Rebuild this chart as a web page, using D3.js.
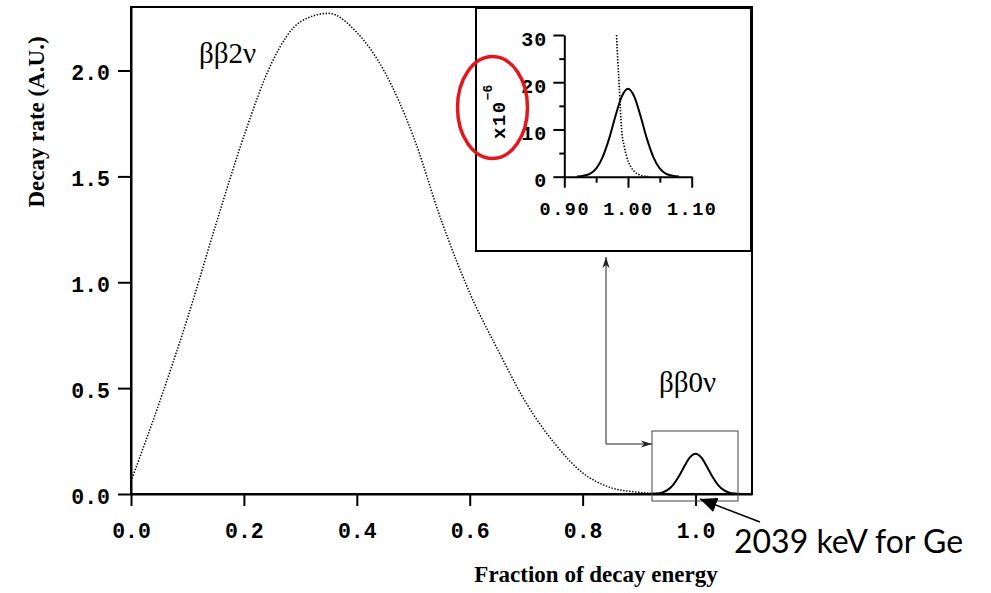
<!DOCTYPE html>
<html>
<head>
<meta charset="utf-8">
<script src="https://cdn.jsdelivr.net/npm/d3@7"></script>
<style>
  html, body { margin: 0; padding: 0; background: #fff; }
  svg { display: block; }
</style>
</head>
<body>
<svg id="chart" width="991" height="593"></svg>
<script>
// ---------------- data ----------------
// main panel: two-neutrino spectrum (fraction of decay energy vs decay rate)
const energyFrac = [0.00, 0.05, 0.10, 0.15, 0.20, 0.25, 0.30, 0.35, 0.40, 0.45, 0.50,
                    0.55, 0.60, 0.65, 0.70, 0.75, 0.80, 0.85, 0.90, 0.95, 1.00];
const rate2nu    = [0.06, 0.43, 0.83, 1.27, 1.69, 2.04, 2.23, 2.27, 2.18, 1.99, 1.69,
                    1.29, 0.95, 0.68, 0.43, 0.24, 0.10, 0.03, 0.008, 0.001, 0.0];
// main panel: neutrinoless peak (schematic)
const peakFrac   = [0.92, 0.93, 0.94, 0.95, 0.96, 0.97, 0.98, 0.99, 1.00,
                    1.01, 1.02, 1.03, 1.04, 1.05, 1.06, 1.07, 1.08];
const rate0nu    = [0.0005, 0.002, 0.006, 0.018, 0.042, 0.081, 0.130, 0.173, 0.190,
                    0.173, 0.130, 0.081, 0.042, 0.018, 0.006, 0.002, 0.0005];
// inset (units of 1e-6)
const insetPeakFrac = [0.92, 0.93, 0.94, 0.95, 0.96, 0.97, 0.98, 0.99, 1.00,
                       1.01, 1.02, 1.03, 1.04, 1.05, 1.06, 1.07, 1.08];
const insetPeakRate = [0.05, 0.2, 0.6, 1.7, 4.1, 7.9, 12.7, 16.9, 18.6,
                       16.9, 12.7, 7.9, 4.1, 1.7, 0.6, 0.2, 0.05];
const insetTailFrac = [0.982, 0.984, 0.986, 0.988, 0.990, 0.994, 0.998, 1.004, 1.010, 1.018, 1.026, 1.035];
const insetTailRate = [30.0, 24.5, 19.8, 14.5, 10.0, 6.5, 4.2, 2.2, 1.1, 0.4, 0.1, 0.0];

// tick labels
const mainXTicks = [0.0, 0.2, 0.4, 0.6, 0.8, 1.0];
const mainYTicks = [0.0, 0.5, 1.0, 1.5, 2.0];
const insetXTicks = [0.90, 1.00, 1.10];
const insetXMinor = [0.95, 1.05];
const insetYTicks = [0, 10, 20, 30];
const insetYMinor = [5, 15, 25];

// text
const xTitle = "Fraction of decay energy";
const yTitle = "Decay rate (A.U.)";
const label2nu = "ββ2ν";
const label0nu = "ββ0ν";
const insetScale = "x10";
const insetExp = "−6";
const noteText = "2039 keV for Ge";

// ---------------- drawing ----------------
const svg = d3.select("#chart");
const monoFont = "'Liberation Mono', 'DejaVu Sans Mono', monospace";
const serifFont = "'Liberation Serif', 'Times New Roman', serif";

const x = d3.scaleLinear().domain([0, 1.1]).range([131, 752]);
const y = d3.scaleLinear().domain([0, 2.3]).range([494, 7]);

const defs = svg.append("defs");
defs.append("marker").attr("id", "thinArrow")
  .attr("viewBox", "0 -5 12 10").attr("refX", 11).attr("refY", 0)
  .attr("markerWidth", 12).attr("markerHeight", 10)
  .attr("markerUnits", "userSpaceOnUse").attr("orient", "auto")
  .append("path").attr("d", "M0,-3.6 L11,0 L0,3.6 L3,0 Z").attr("fill", "#222");
defs.append("marker").attr("id", "bigArrow")
  .attr("viewBox", "0 -8 18 16").attr("refX", 17).attr("refY", 0)
  .attr("markerWidth", 18).attr("markerHeight", 16)
  .attr("markerUnits", "userSpaceOnUse").attr("orient", "auto")
  .append("path").attr("d", "M0,-7.5 L17,0 L0,7.5 Z").attr("fill", "#000");

// main frame
svg.append("rect")
  .attr("x", x(0)).attr("y", y(2.3))
  .attr("width", x(1.1) - x(0)).attr("height", y(0) - y(2.3))
  .attr("fill", "none").attr("stroke", "#000").attr("stroke-width", 2);

// axes
const xAxis = svg.append("g").attr("transform", `translate(0,${y(0)})`)
  .call(d3.axisBottom(x).tickValues(mainXTicks).tickFormat(d3.format(".1f"))
        .tickSize(12).tickSizeOuter(0).tickPadding(17));
const yAxis = svg.append("g").attr("transform", `translate(${x(0)},0)`)
  .call(d3.axisLeft(y).tickValues(mainYTicks).tickFormat(d3.format(".1f"))
        .tickSize(13).tickSizeOuter(0).tickPadding(8));
[xAxis, yAxis].forEach(g => {
  g.select(".domain").attr("stroke", "#000").attr("stroke-width", 2);
  g.selectAll(".tick line").attr("stroke", "#000").attr("stroke-width", 2);
  g.selectAll(".tick text").attr("fill", "#000")
    .style("font-family", monoFont).style("font-weight", "bold").style("font-size", "21.5px");
});
yAxis.selectAll(".tick text").attr("dy", "0.42em");

// axis titles
svg.append("text").attr("x", 596).attr("y", 582).attr("text-anchor", "middle")
  .style("font-family", serifFont).style("font-weight", "bold").style("font-size", "23px")
  .text(xTitle);
svg.append("text").attr("transform", "translate(44,122) rotate(-90)").attr("text-anchor", "middle")
  .style("font-family", serifFont).style("font-weight", "bold").style("font-size", "23px")
  .text(yTitle);

// curves
const line = d3.line().x(d => x(d[0])).y(d => y(d[1])).curve(d3.curveMonotoneX);
svg.append("path").datum(d3.zip(energyFrac, rate2nu)).attr("d", line)
  .attr("fill", "none").attr("stroke", "#000").attr("stroke-width", 1.5)
  .attr("stroke-dasharray", "1.4 1.6");
svg.append("path").datum(d3.zip(peakFrac, rate0nu)).attr("d", line)
  .attr("fill", "none").attr("stroke", "#000").attr("stroke-width", 2);

// labels
svg.append("text").attr("x", 199).attr("y", 63)
  .style("font-family", serifFont).style("font-size", "29px").text(label2nu);
svg.append("text").attr("x", 659).attr("y", 392)
  .style("font-family", serifFont).style("font-size", "29px").text(label0nu);

// zoom box around peak
svg.append("rect").attr("x", 652).attr("y", 431).attr("width", 86).attr("height", 70)
  .attr("fill", "none").attr("stroke", "#444").attr("stroke-width", 1);

// connector arrows
svg.append("line").attr("x1", 606).attr("y1", 444).attr("x2", 606).attr("y2", 257)
  .attr("stroke", "#222").attr("stroke-width", 1).attr("marker-end", "url(#thinArrow)");
svg.append("line").attr("x1", 606).attr("y1", 444).attr("x2", 652).attr("y2", 444)
  .attr("stroke", "#222").attr("stroke-width", 1).attr("marker-end", "url(#thinArrow)");

// annotation arrow + text
svg.append("line").attr("x1", 760).attr("y1", 522).attr("x2", 700).attr("y2", 499)
  .attr("stroke", "#000").attr("stroke-width", 1.5).attr("marker-end", "url(#bigArrow)");
svg.append("text").attr("x", 734).attr("y", 553)
  .style("font-family", "Lato, 'Open Sans', sans-serif").style("font-size", "32px")
  .attr("fill", "#000").text(noteText);

// ---------------- inset ----------------
svg.append("rect").attr("x", 476).attr("y", 8).attr("width", 275).attr("height", 243)
  .attr("fill", "#fff").attr("stroke", "#000").attr("stroke-width", 2);

const xi = d3.scaleLinear().domain([0.9, 1.1]).range([564.3, 691.7]);
const yi = d3.scaleLinear().domain([0, 30]).range([176.7, 35]);

const ixMinor = svg.append("g").attr("transform", `translate(0,${yi(0)})`)
  .call(d3.axisBottom(xi).tickValues(insetXMinor).tickSize(6).tickFormat(""));
const ixMajor = svg.append("g").attr("transform", `translate(0,${yi(0)})`)
  .call(d3.axisBottom(xi).tickValues(insetXTicks).tickFormat(d3.format(".2f"))
        .tickSize(11).tickSizeOuter(0).tickPadding(14));
const iyMinor = svg.append("g").attr("transform", `translate(${xi(0.9)},0)`)
  .call(d3.axisLeft(yi).tickValues(insetYMinor).tickSize(5).tickFormat(""));
const iyMajor = svg.append("g").attr("transform", `translate(${xi(0.9)},0)`)
  .call(d3.axisLeft(yi).tickValues(insetYTicks).tickSize(11).tickSizeOuter(0).tickPadding(6));
[ixMinor, iyMinor].forEach(g => g.select(".domain").remove());
[ixMinor, ixMajor, iyMinor, iyMajor].forEach(g => {
  g.select(".domain").attr("stroke", "#000").attr("stroke-width", 2);
  g.selectAll(".tick line").attr("stroke", "#000").attr("stroke-width", 2);
  g.selectAll(".tick text").attr("fill", "#000")
    .style("font-family", monoFont).style("font-weight", "bold").style("font-size", "18.5px");
});
ixMajor.selectAll(".tick text").style("letter-spacing", "1.5px");
iyMajor.selectAll(".tick text").style("font-size", "20px").style("letter-spacing", "1px").attr("dy", "0.5em");

const lineI = d3.line().x(d => xi(d[0])).y(d => yi(d[1])).curve(d3.curveMonotoneX);
svg.append("path").datum(d3.zip(insetTailFrac, insetTailRate)).attr("d", lineI)
  .attr("fill", "none").attr("stroke", "#000").attr("stroke-width", 1.6)
  .attr("stroke-dasharray", "1.4 1.6");
svg.append("path").datum(d3.zip(insetPeakFrac, insetPeakRate)).attr("d", lineI)
  .attr("fill", "none").attr("stroke", "#000").attr("stroke-width", 2);

// scale factor label
const sf = svg.append("text").attr("transform", "translate(505,139) rotate(-90)")
  .style("font-family", monoFont).style("font-weight", "bold").style("font-size", "19px")
  .attr("fill", "#000");
sf.append("tspan").style("letter-spacing", "1.5px").text(insetScale);
sf.append("tspan").attr("dy", "-13").style("font-size", "13px").style("letter-spacing", "0px").text(insetExp);

// red highlight ellipse
svg.append("ellipse").attr("cx", 492.5).attr("cy", 107.5).attr("rx", 35).attr("ry", 51)
  .attr("fill", "none").attr("stroke", "#e3161d").attr("stroke-width", 3.5);
</script>
</body>
</html>
